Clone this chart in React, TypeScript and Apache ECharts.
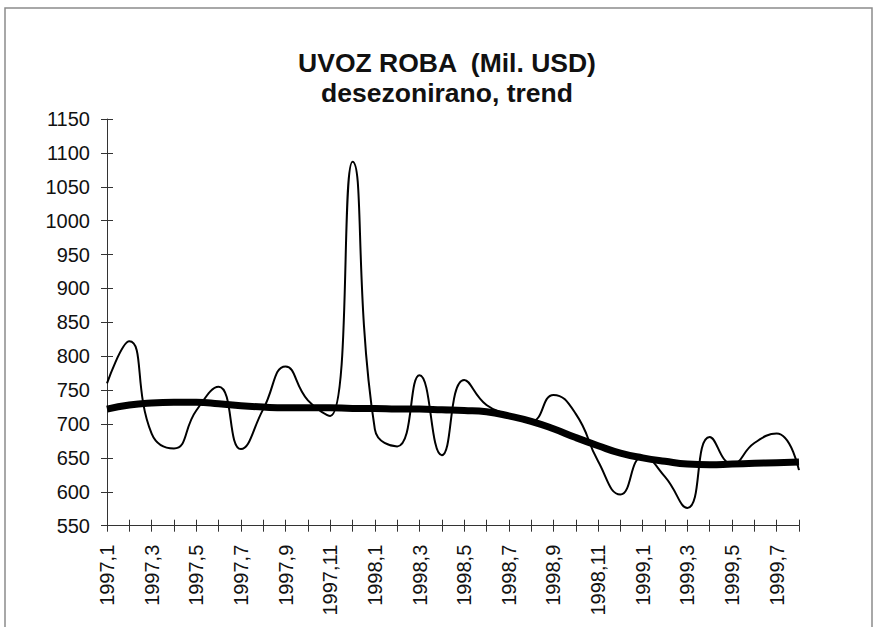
import React, { useEffect, useRef } from "react";
import * as echarts from "echarts";

const categories: string[] = [
  "1997,1", "1997,2", "1997,3", "1997,4", "1997,5", "1997,6", "1997,7", "1997,8",
  "1997,9", "1997,10", "1997,11", "1997,12",
  "1998,1", "1998,2", "1998,3", "1998,4", "1998,5", "1998,6", "1998,7", "1998,8",
  "1998,9", "1998,10", "1998,11", "1998,12",
  "1999,1", "1999,2", "1999,3", "1999,4", "1999,5", "1999,6", "1999,7", "1999,8",
];

// desezonirano (seasonally adjusted)
const seasonallyAdjusted: number[] = [
  760, 822, 686, 664, 720, 755, 663, 722, 785, 735, 712, 1087,
  692, 667, 772, 654, 765, 728, 714, 704, 743, 715, 645, 596,
  652, 622, 576, 681, 641, 672, 686, 632,
];

// trend
const trend: number[] = [
  722, 728, 731, 732, 732, 730, 727, 725, 724, 724, 724, 723,
  723, 722, 722, 721, 720, 718, 712, 704, 693, 680, 668, 657,
  650, 645, 641, 640, 641, 642, 643, 644,
];

const titleLines: string[] = ["UVOZ ROBA  (Mil. USD)", "desezonirano, trend"];

const yMin = 550;
const yMax = 1150;
const yStep = 50;

export default function App() {
  const ref = useRef<HTMLDivElement>(null);

  useEffect(() => {
    if (!ref.current) return;
    const chart = echarts.init(ref.current, null, { renderer: "svg" });
    const font = "'Liberation Sans', Arial, sans-serif";
    const gridBox = { left: 107, right: 77, top: 119, bottom: 101.3, outerBoundsMode: "none" };
    chart.setOption({
      animation: false,
      backgroundColor: "#ffffff",
      title: {
        text: titleLines.join("\n"),
        left: 442,
        top: 43,
        textAlign: "center",
        textStyle: {
          fontFamily: font,
          fontSize: 26.5,
          fontWeight: "bold",
          lineHeight: 30,
          color: "#111",
        },
      },
      graphic: [
        {
          type: "rect",
          shape: { x: 5, y: 8, width: 867, height: 700 },
          style: { fill: "none", stroke: "#8c8c8c", lineWidth: 1.5 },
          silent: true,
        },
      ],
      grid: [{ ...gridBox }, { ...gridBox }],
      xAxis: [
        {
          type: "category",
          gridIndex: 0,
          data: categories,
          boundaryGap: false,
          axisLine: { show: true, lineStyle: { color: "#333", width: 1 } },
          axisTick: { show: true, interval: 0, length: 6, inside: false, lineStyle: { color: "#333" } },
          axisLabel: {
            interval: 1,
            rotate: 90,
            margin: 19,
            fontFamily: font,
            fontSize: 20,
            color: "#111",
          },
          splitLine: { show: false },
        },
        {
          type: "category",
          gridIndex: 1,
          data: categories,
          boundaryGap: false,
          position: "bottom",
          axisLine: { show: false },
          axisTick: { show: true, interval: 0, length: 6, inside: true, lineStyle: { color: "#333" } },
          axisLabel: { show: false },
          splitLine: { show: false },
        },
      ],
      yAxis: [
        {
          type: "value",
          gridIndex: 0,
          min: yMin,
          max: yMax,
          interval: yStep,
          axisLine: { show: true, lineStyle: { color: "#333", width: 1 } },
          axisTick: { show: true, length: 6, inside: false, lineStyle: { color: "#333" } },
          axisLabel: {
            margin: 17,
            fontFamily: font,
            fontSize: 20,
            color: "#111",
            formatter: (v: number) => String(v),
          },
          splitLine: { show: false },
        },
        {
          type: "value",
          gridIndex: 1,
          min: yMin,
          max: yMax,
          interval: yStep,
          position: "left",
          axisLine: { show: false },
          axisTick: { show: true, length: 6, inside: true, lineStyle: { color: "#333" } },
          axisLabel: { show: false },
          splitLine: { show: false },
        },
      ],
      series: [
        {
          name: "trend",
          type: "line",
          data: trend,
          xAxisIndex: 0,
          yAxisIndex: 0,
          smooth: 0.5,
          symbol: "none",
          lineStyle: { color: "#000", width: 7 },
          z: 2,
        },
        {
          name: "desezonirano",
          type: "line",
          data: seasonallyAdjusted,
          xAxisIndex: 0,
          yAxisIndex: 0,
          smooth: 0.5,
          symbol: "none",
          lineStyle: { color: "#000", width: 2 },
          z: 3,
        },
      ],
    });
    return () => chart.dispose();
  }, []);

  return (
    <div
      ref={ref}
      style={{ position: "absolute", left: 0, top: 0, width: 876, height: 627, overflow: "hidden" }}
    />
  );
}
